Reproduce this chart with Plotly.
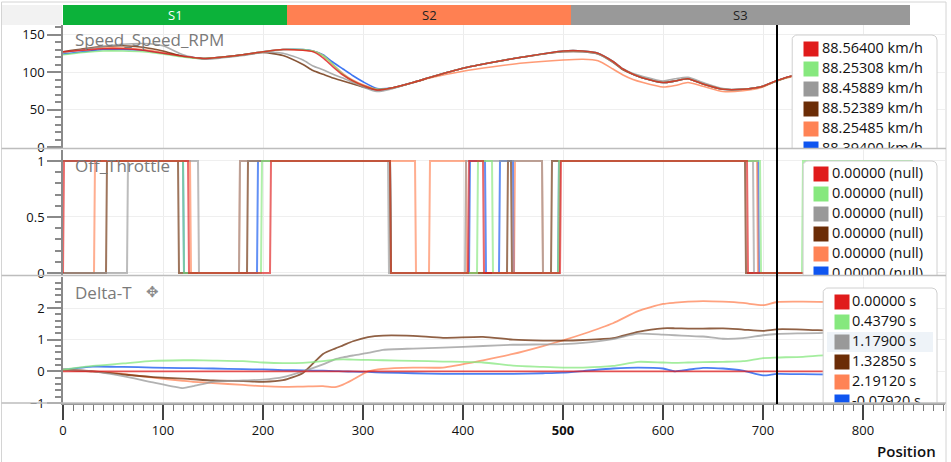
import numpy as np
import plotly.graph_objects as go

# ---------------- data ----------------
COLORS = ["#E01B1B", "#86E87E", "#999999", "#6B2C06", "#FF8355", "#0F55F0"]
CURSOR_POS = 714

SECTOR_NAMES = ["S1", "S2", "S3"]
SECTOR_BOUNDS = [0, 224, 508, 847]
SECTOR_COLORS = ["#0CB23A", "#FF8052", "#999999"]
SECTOR_TEXT = ["#FFFFFF", "#222222", "#222222"]

SPEED_LEGEND = ["88.56400 km/h", "88.25308 km/h", "88.45889 km/h",
                "88.52389 km/h", "88.25485 km/h", "88.39400 km/h"]
THROTTLE_LEGEND = ["0.00000 (null)"] * 6
DELTA_LEGEND = ["0.00000 s", "0.43790 s", "1.17900 s", "1.32850 s", "2.19120 s", "-0.07920 s"]

speed_x = [0, 20, 40, 60, 80, 100, 120, 140, 160, 180, 200, 220, 240, 250, 260, 270, 280, 290,
           300, 314, 330, 350, 370, 400, 430, 460, 500, 520, 535, 550, 560, 570, 580, 600, 612,
           625, 640, 660, 680, 700, 714, 730, 760, 800, 850]
speed_red = [127, 129, 131, 131, 129, 125, 121, 118, 120, 123, 127, 130, 129, 127, 119, 107, 96, 88,
             82, 76, 79, 86, 94, 105, 113, 120, 128, 128, 125, 114, 104, 97, 92, 86, 88,
             91, 84, 77, 77, 81, 88.56, 95, 100, 106, 110]
speed_green = [123, 126, 128, 128, 127, 124, 120, 118, 120, 123, 127, 130, 130, 128, 122, 110, 97, 88,
               82, 77, 79, 86, 94, 105, 113, 120, 128, 128, 125, 114, 104, 97, 92, 86, 88,
               91, 84, 77, 77, 81, 88.25, 95, 100, 106, 110]
speed_gray = [126, 130, 134, 137, 138, 135, 123, 117, 119, 122, 126, 125, 116, 108, 103, 97, 92, 86,
              80, 74, 78, 86, 94, 105, 113, 120, 127, 127, 124, 113, 104, 98, 94, 88, 91,
              93, 86, 78, 77, 81, 88.46, 95, 100, 106, 110]
speed_brown = [127, 131, 134, 135, 133, 128, 121, 118, 120, 123, 126, 122, 110, 102, 97, 92, 88, 84,
               80, 76, 79, 86, 94, 105, 113, 120, 127, 127, 124, 113, 103, 97, 92, 86, 88,
               91, 84, 77, 77, 81, 88.52, 95, 100, 106, 110]
speed_salmon = [126, 130, 132, 132, 130, 126, 121, 118, 120, 123, 127, 130, 129, 128, 122, 110, 98, 89,
                83, 77, 79, 86, 93, 101, 107, 112, 116, 117, 115, 104, 96, 90, 86, 80, 82,
                86, 81, 74, 75, 80, 88.25, 94, 100, 106, 110]
speed_blue = [124, 127, 130, 130, 129, 125, 121, 118, 120, 123, 127, 130, 130, 128, 123, 113, 104, 95,
              87, 78, 79, 86, 94, 105, 113, 120, 128, 128, 125, 114, 104, 97, 92, 86, 88,
              91, 84, 77, 77, 81, 88.39, 95, 100, 106, 110]

# off-throttle intervals (value 1)
thr_red = [(1, 125), (208, 327), (406, 420), (498, 684)]
thr_green = [(0, 120), (199, 327), (415, 429), (496, 697), (740, 850)]
thr_gray = [(65, 135), (177, 325), (403, 479), (497, 690)]
thr_brown = [(44, 115), (185, 327), (445, 448), (489, 682)]
thr_salmon = [(32, 127), (177, 352), (367, 403), (452, 479), (497, 694)]
thr_blue = [(0, 120), (195, 327), (407, 422), (437, 450), (496, 695)]

delta_x = [0, 30, 60, 90, 120, 130, 150, 180, 200, 220, 240, 260, 272, 280, 290, 305, 320, 350, 380,
           420, 450, 480, 500, 520, 550, 575, 600, 612, 625, 640, 660, 680, 700, 714, 740, 770, 800, 850]
delta_red = [0.0] * len(delta_x)
delta_green = [0.05, 0.17, 0.25, 0.33, 0.35, 0.35, 0.34, 0.32, 0.28, 0.26, 0.27, 0.32, 0.37, 0.38, 0.37,
               0.36, 0.35, 0.33, 0.31, 0.28, 0.18, 0.14, 0.12, 0.12, 0.17, 0.30, 0.28, 0.27, 0.28, 0.29,
               0.30, 0.32, 0.42, 0.438, 0.46, 0.53, 0.56, 0.60]
delta_gray = [0.05, 0.0, -0.15, -0.35, -0.53, -0.47, -0.33, -0.29, -0.26, -0.18, 0.0, 0.22, 0.38, 0.44,
              0.50, 0.58, 0.68, 0.72, 0.75, 0.80, 0.84, 0.85, 0.86, 0.90, 1.02, 1.19, 1.16, 1.14, 1.12,
              1.10, 1.03, 1.05, 1.14, 1.179, 1.20, 1.22, 1.24, 1.26]
delta_brown = [0.05, 0.0, -0.10, -0.18, -0.23, -0.25, -0.29, -0.31, -0.33, -0.28, -0.05, 0.55, 0.72,
               0.82, 0.95, 1.08, 1.13, 1.12, 1.06, 1.09, 1.00, 0.97, 0.97, 0.99, 1.05, 1.25, 1.36, 1.36,
               1.35, 1.35, 1.36, 1.32, 1.28, 1.3285, 1.32, 1.28, 1.27, 1.26]
delta_salmon = [0.05, 0.0, -0.08, -0.20, -0.30, -0.33, -0.37, -0.43, -0.47, -0.49, -0.48, -0.47, -0.50,
                -0.42, -0.26, 0.0, 0.08, 0.12, 0.12, 0.35, 0.55, 0.80, 0.98, 1.18, 1.52, 1.90, 2.13,
                2.17, 2.20, 2.22, 2.20, 2.16, 2.09, 2.19, 2.20, 2.19, 2.20, 2.20]
delta_blue = [0.05, 0.15, 0.14, 0.12, 0.10, 0.10, 0.09, 0.07, 0.06, 0.04, 0.03, 0.02, 0.01, 0.0, -0.01,
              -0.02, -0.04, -0.06, -0.08, -0.08, -0.08, -0.06, -0.04, 0.01, 0.09, 0.12, 0.09, 0.0,
              0.05, 0.11, 0.09, 0.02, -0.13, -0.079, -0.09, -0.10, -0.10, -0.10]

SPEED = [speed_red, speed_green, speed_gray, speed_brown, speed_salmon, speed_blue]
THROTTLE = [thr_red, thr_green, thr_gray, thr_brown, thr_salmon, thr_blue]
DELTA = [delta_red, delta_green, delta_gray, delta_brown, delta_salmon, delta_blue]

X_TICKS = [0, 100, 200, 300, 400, 500, 600, 700, 800]
X_TICKTEXT = ["0", "100", "200", "300", "400", "<b>500</b>", "600", "700", "800"]

# ---------------- layout geometry ----------------
W, H = 951, 462
L, R, T, B = 63, 6, 25, 59
PW, PH = W - L - R, H - T - B
X_RANGE = [0, 882]
FONT = "Open Sans"

PANELS = [
    dict(px=(25, 148), rng=[-1.3, 162.7], xa="x", ya="y"),
    dict(px=(150, 275), rng=[-0.018, 1.098], xa="x2", ya="y2"),
    dict(px=(277, 403), rng=[-1.0, 2.98], xa="x3", ya="y3"),
]


def pdx(px):
    return (px - L) / PW


def pdy(py):
    return (H - B - py) / PH


def dx(px):
    return X_RANGE[0] + (px - L) / PW * (X_RANGE[1] - X_RANGE[0])


def dy(py, p):
    top, bot = p["px"]
    r0, r1 = p["rng"]
    return r0 + (bot - py) / (bot - top) * (r1 - r0)


def step_xy(iv, end=850):
    xs, ys = [], []
    if iv[0][0] > 0:
        xs.append(0); ys.append(0)
    for a, b in iv:
        if a > 0:
            xs.append(a - 1); ys.append(0)
        xs += [a, min(b, end)]; ys += [1, 1]
        if b < end:
            xs.append(b + 1); ys.append(0)
    if iv[-1][1] < end:
        xs.append(end); ys.append(0)
    return xs, ys


fig = go.Figure()

order = [5, 4, 3, 2, 1, 0]
# speed
p = PANELS[0]
for i in order:
    fig.add_trace(go.Scatter(x=speed_x, y=SPEED[i], mode="lines", line=dict(color=COLORS[i], width=1.6, shape="spline", smoothing=0.6),
                             opacity=0.8, xaxis=p["xa"], yaxis=p["ya"], hoverinfo="skip", showlegend=False))
# throttle
p = PANELS[1]
for i in order:
    xs, ys = step_xy(THROTTLE[i])
    fig.add_trace(go.Scatter(x=xs, y=ys, mode="lines", line=dict(color=COLORS[i], width=2),
                             opacity=0.65, xaxis=p["xa"], yaxis=p["ya"], hoverinfo="skip", showlegend=False))
# delta
p = PANELS[2]
for i in order:
    fig.add_trace(go.Scatter(x=delta_x, y=DELTA[i], mode="lines", line=dict(color=COLORS[i], width=1.8, shape="spline", smoothing=0.6),
                             opacity=0.75, xaxis=p["xa"], yaxis=p["ya"], hoverinfo="skip", showlegend=False))


def rounded_box(x0, x1, y0, y1, r=5):
    pts = []
    for cx, cy, a0 in [(x1 - r, y0 + r, -90), (x1 - r, y1 - r, 0), (x0 + r, y1 - r, 90), (x0 + r, y0 + r, 180)]:
        for a in np.linspace(a0, a0 + 90, 6):
            pts.append((cx + r * np.cos(np.radians(a)), cy + r * np.sin(np.radians(a))))
    pts.append(pts[0])
    return [q[0] for q in pts], [q[1] for q in pts]


LEG = [
    dict(box=(792, 937, 35), sq=811, tx=822, row0=49, labels=SPEED_LEGEND, hl=None),
    dict(box=(803, 937, 161), sq=821, tx=832, row0=174, labels=THROTTLE_LEGEND, hl=None),
    dict(box=(823, 937, 288), sq=842, tx=852, row0=302, labels=DELTA_LEGEND, hl=2),
]
for p, lg in zip(PANELS, LEG):
    x0, x1, y0 = lg["box"]
    bx, by = rounded_box(x0, x1, y0, y0 + 200)
    fig.add_trace(go.Scatter(x=[dx(v) for v in bx], y=[dy(v, p) for v in by], mode="lines", fill="toself",
                             fillcolor="white", line=dict(color="#d0d0d0", width=1), xaxis=p["xa"], yaxis=p["ya"],
                             hoverinfo="skip", showlegend=False))
    if lg["hl"] is not None:
        ry = lg["row0"] + 20 * lg["hl"]
        hx = [827, 933, 933, 827, 827]
        hy = [ry - 10, ry - 10, ry + 10, ry + 10, ry - 10]
        fig.add_trace(go.Scatter(x=[dx(v) for v in hx], y=[dy(v, p) for v in hy], mode="lines", fill="toself",
                                 fillcolor="#EEF3F8", line=dict(width=0), xaxis=p["xa"], yaxis=p["ya"],
                                 hoverinfo="skip", showlegend=False))
    rows = [lg["row0"] + 20 * k for k in range(len(lg["labels"]))]
    fig.add_trace(go.Scatter(x=[dx(lg["sq"])] * len(rows), y=[dy(v, p) for v in rows], mode="markers",
                             marker=dict(symbol="square", size=15, color=COLORS, line=dict(width=0)),
                             cliponaxis=True, xaxis=p["xa"], yaxis=p["ya"], hoverinfo="skip", showlegend=False))
    fig.add_trace(go.Scatter(x=[dx(lg["tx"])] * len(rows), y=[dy(v, p) for v in rows], mode="text",
                             text=lg["labels"], textposition="middle right",
                             textfont=dict(family=FONT, size=14.5, color="#111111"),
                             cliponaxis=True, xaxis=p["xa"], yaxis=p["ya"], hoverinfo="skip", showlegend=False))

shapes = []
annotations = []
# outer frame
shapes.append(dict(type="rect", xref="paper", yref="paper", x0=pdx(1.5), x1=pdx(946), y0=pdy(2), y1=pdy(480),
                   line=dict(color="#d4d4d4", width=1), layer="below"))
# grey corner above y axis
shapes.append(dict(type="rect", xref="paper", yref="paper", x0=pdx(2), x1=pdx(62), y0=pdy(25), y1=pdy(5),
                   fillcolor="#F2F2F2", line=dict(width=0), layer="below"))
# sectors
for k, nm in enumerate(SECTOR_NAMES):
    a, b = SECTOR_BOUNDS[k], SECTOR_BOUNDS[k + 1]
    xa = (a - X_RANGE[0]) / (X_RANGE[1] - X_RANGE[0])
    xb = (b - X_RANGE[0]) / (X_RANGE[1] - X_RANGE[0])
    shapes.append(dict(type="rect", xref="paper", yref="paper", x0=xa, x1=xb, y0=pdy(25), y1=pdy(5),
                       fillcolor=SECTOR_COLORS[k], line=dict(width=0)))
    annotations.append(dict(xref="paper", yref="paper", x=(xa + xb) / 2, y=pdy(15), text=nm, showarrow=False,
                            font=dict(family=FONT, size=13, color=SECTOR_TEXT[k]), xanchor="center", yanchor="middle"))
# separators
for py in [148.5, 275.5, 403]:
    shapes.append(dict(type="line", xref="paper", yref="paper", x0=pdx(1.5), x1=pdx(946), y0=pdy(py), y1=pdy(py),
                       line=dict(color="#BDBDBD", width=1.5)))
# cursor
shapes.append(dict(type="line", xref="x3", yref="paper", x0=CURSOR_POS, x1=CURSOR_POS, y0=pdy(404), y1=pdy(25),
                   line=dict(color="black", width=2)))

# panel titles
for p, title, py in zip(PANELS, ["Speed_Speed_RPM", "Off_Throttle", "Delta-T"], [40, 165, 292]):
    annotations.append(dict(xref="paper", yref="paper", x=pdx(73), y=pdy(py), text=title, showarrow=False,
                            xanchor="left", yanchor="middle", font=dict(family=FONT, size=17, color="#7A7A7A")))
annotations.append(dict(xref="paper", yref="paper", x=pdx(152), y=pdy(292), text="✥", showarrow=False,
                        xanchor="center", yanchor="middle", font=dict(family="DejaVu Sans", size=15, color="#8A8A8A")))
annotations.append(dict(xref="paper", yref="paper", x=pdx(938), y=pdy(451), text="Position", showarrow=False,
                        xanchor="right", yanchor="middle", font=dict(family=FONT, size=15, color="#111111", weight=600)))


def dom(p):
    top, bot = p["px"]
    return [pdy(bot), pdy(top)]


xcommon = dict(range=X_RANGE, showgrid=True, gridcolor="#ECECEC", gridwidth=1, dtick=100, tick0=0,
               zeroline=False, fixedrange=True)
ycommon = dict(showline=True, linecolor="#8A8A8A", linewidth=1.5, ticks="outside", ticklen=14, tickwidth=1.5,
               tickcolor="#8A8A8A", showgrid=True, gridcolor="#EFEFEF", zeroline=False,
               tickfont=dict(family=FONT, size=13, color="#111111"))

fig.update_layout(
    width=W, height=H, margin=dict(l=L, r=R, t=T, b=B, pad=0),
    paper_bgcolor="white", plot_bgcolor="white", showlegend=False,
    font=dict(family=FONT),
    xaxis=dict(domain=[0, 1], anchor="y", showticklabels=False, ticks="", showline=False, **xcommon),
    xaxis2=dict(domain=[0, 1], anchor="y2", showticklabels=False, ticks="", showline=False, **xcommon),
    xaxis3=dict(domain=[0, 1], anchor="y3", showticklabels=True, ticks="outside", ticklen=15, tickwidth=2,
                tickcolor="#444444", tickvals=X_TICKS, ticktext=X_TICKTEXT, showline=True, linecolor="#9A9A9A",
                linewidth=1.5, tickfont=dict(family=FONT, size=13, color="#111111"),
                minor=dict(dtick=10, tick0=0, ticks="outside", ticklen=6, tickwidth=1, tickcolor="#777777", showgrid=False),
                **xcommon),
    yaxis=dict(domain=dom(PANELS[0]), anchor="x", range=PANELS[0]["rng"], tickvals=[0, 50, 100, 150],
               minor=dict(dtick=10, tick0=0, ticks="outside", ticklen=6, tickcolor="#8A8A8A", showgrid=False), **ycommon),
    yaxis2=dict(domain=dom(PANELS[1]), anchor="x2", range=PANELS[1]["rng"], tickvals=[0, 0.5, 1],
                ticktext=["0", "0.5", "1"],
                minor=dict(dtick=0.1, tick0=0, ticks="outside", ticklen=6, tickcolor="#8A8A8A", showgrid=False), **ycommon),
    yaxis3=dict(domain=dom(PANELS[2]), anchor="x3", range=PANELS[2]["rng"], tickvals=[-1, 0, 1, 2],
                minor=dict(dtick=0.2, tick0=0, ticks="outside", ticklen=6, tickcolor="#8A8A8A", showgrid=False), **ycommon),
    shapes=shapes, annotations=annotations,
)

fig.write_html("out.html")
